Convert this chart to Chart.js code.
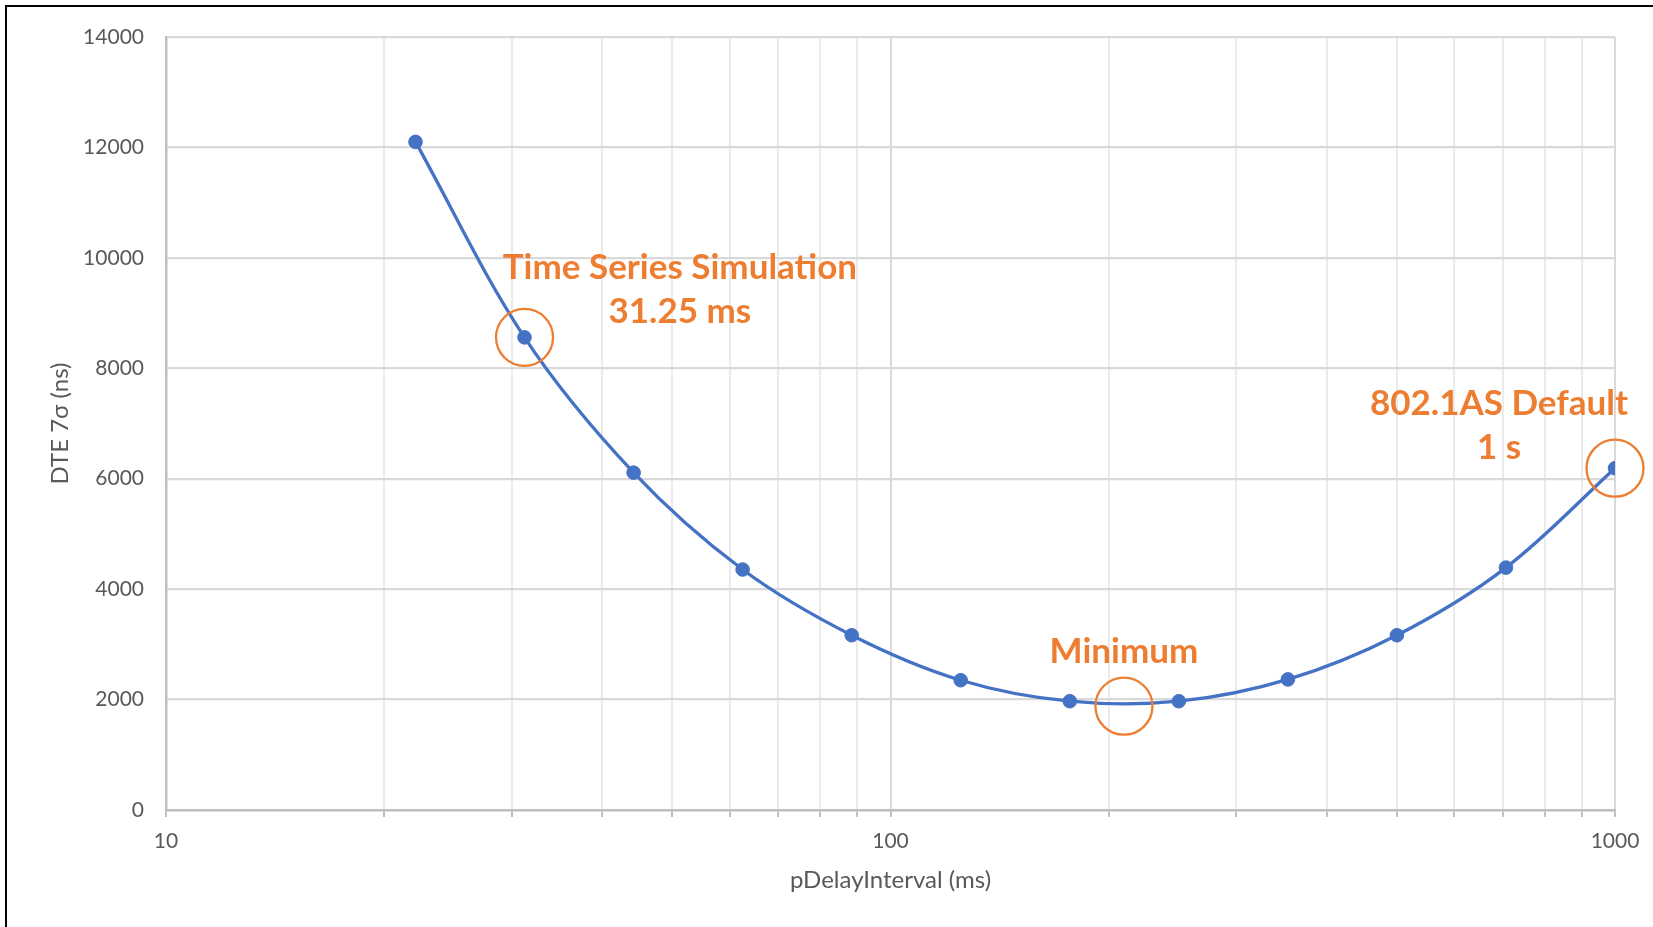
<!DOCTYPE html>
<html>
<head>
<meta charset="utf-8">
<script src="https://cdn.jsdelivr.net/npm/chart.js@4/dist/chart.umd.min.js"></script>
<style>
  html, body { margin: 0; padding: 0; background: #ffffff; }
  #wrap { position: relative; width: 1653px; height: 927px; overflow: hidden; }
  #c { position: absolute; left: 0; top: 0; }
  #frame { position: absolute; left: 5px; top: 5px; width: 1700px; height: 1000px;
           border-left: 2px solid #000; border-top: 2px solid #000; pointer-events: none; }
</style>
</head>
<body>
<div id="wrap">
  <canvas id="c" width="1653" height="927"></canvas>
  <div id="frame"></div>
</div>
<script>
// ---- data ----
const intervalsMs = [22.1, 31.25, 44.2, 62.5, 88.4, 125, 176.8, 250, 353.6, 500, 707.1, 1000];
const dte7sigmaNs = [12100, 8560, 6110, 4355, 3165, 2350, 1970, 1970, 2365, 3165, 4390, 6190];

// highlighted points (orange circles)
const markX = [31.25, 210, 1000];
const markY = [8560, 1880, 6190];

// annotation texts and their anchors (data coordinates, first-line baseline)
const annoText = [["Time Series Simulation", "31.25 ms"], ["Minimum"], ["802.1AS Default", "1 s"]];
const annoX = [51.2, 210, 691.6];
const annoY = [9612, 2663, 7149];

const yTicks = [0, 2000, 4000, 6000, 8000, 10000, 12000, 14000];
const xMajorTicks = [10, 100, 1000];

const BLUE = '#4472C4';
const ORANGE = '#ED7D31';
const TXT = '#595959';

const annoPlugin = {
  id: 'anno',
  afterDatasetsDraw(chart) {
    const { ctx, scales: { x, y } } = chart;
    ctx.save();
    ctx.font = 'bold 35px Lato';
    ctx.fillStyle = ORANGE;
    ctx.textAlign = 'center';
    ctx.textBaseline = 'alphabetic';
    annoText.forEach((lines, i) => {
      const px = x.getPixelForValue(annoX[i]);
      const py = y.getPixelForValue(annoY[i]);
      lines.forEach((t, j) => ctx.fillText(t, px, py + j * 44));
    });
    ctx.restore();
  }
};

const isMajor = v => xMajorTicks.includes(Math.round(v * 1000) / 1000);

new Chart(document.getElementById('c'), {
  type: 'scatter',
  data: {
    datasets: [
      {
        label: 'DTE',
        data: intervalsMs.map((v, i) => ({ x: v, y: dte7sigmaNs[i] })),
        showLine: true,
        borderColor: BLUE,
        borderWidth: 3.3,
        backgroundColor: BLUE,
        pointBackgroundColor: BLUE,
        pointBorderColor: BLUE,
        pointBorderWidth: 1,
        pointRadius: 6.8,
        tension: 0.35,
        order: 2
      },
      {
        label: 'marks',
        data: markX.map((v, i) => ({ x: v, y: markY[i] })),
        showLine: false,
        pointStyle: 'circle',
        pointRadius: 28.5,
        pointBorderWidth: 2.3,
        pointBorderColor: ORANGE,
        pointBackgroundColor: 'rgba(0,0,0,0)',
        clip: false,
        order: 1
      }
    ]
  },
  options: {
    responsive: false,
    animation: false,
    devicePixelRatio: 1,
    layout: { padding: { left: 0, right: 38, top: 37, bottom: 0 } },
    plugins: { legend: { display: false }, tooltip: { enabled: false } },
    scales: {
      x: {
        type: 'logarithmic',
        min: 10,
        max: 1000,
        afterFit: s => { s.height = 117; },
        afterBuildTicks: s => {
          const t = [];
          [10, 100].forEach(d => { for (let k = 1; k < 10; k++) t.push({ value: d * k }); });
          t.push({ value: 1000 });
          s.ticks = t;
        },
        grid: {
          color: c => (c.tick && isMajor(c.tick.value)) ? '#d9d9d9' : '#ebebeb',
          lineWidth: 2,
          drawTicks: true,
          tickLength: 7,
          tickColor: '#bfbfbf',
          tickWidth: 2
        },
        border: { display: true, color: '#bfbfbf', width: 2.5 },
        ticks: {
          autoSkip: false,
          maxRotation: 0,
          padding: 12,
          color: TXT,
          font: { family: 'Lato', size: 21 },
          callback: v => isMajor(v) ? String(v) : ''
        },
        title: {
          display: true,
          text: 'pDelayInterval (ms)',
          color: TXT,
          font: { family: 'Lato', size: 24 },
          padding: { top: 0, bottom: 32 }
        }
      },
      y: {
        min: 0,
        max: 14000,
        afterFit: s => { s.width = 166; },
        afterBuildTicks: s => { s.ticks = yTicks.map(v => ({ value: v })); },
        grid: { color: '#d9d9d9', lineWidth: 2.2, drawTicks: false },
        border: { display: true, color: '#bfbfbf', width: 2.5 },
        ticks: {
          padding: 22,
          color: TXT,
          font: { family: 'Lato', size: 21 },
          callback: v => String(v)
        },
        title: {
          display: true,
          text: 'DTE 7σ (ns)',
          color: TXT,
          font: { family: 'Lato', size: 24 },
          padding: { top: 46, bottom: 0 }
        }
      }
    }
  },
  plugins: [annoPlugin]
});
</script>
</body>
</html>
